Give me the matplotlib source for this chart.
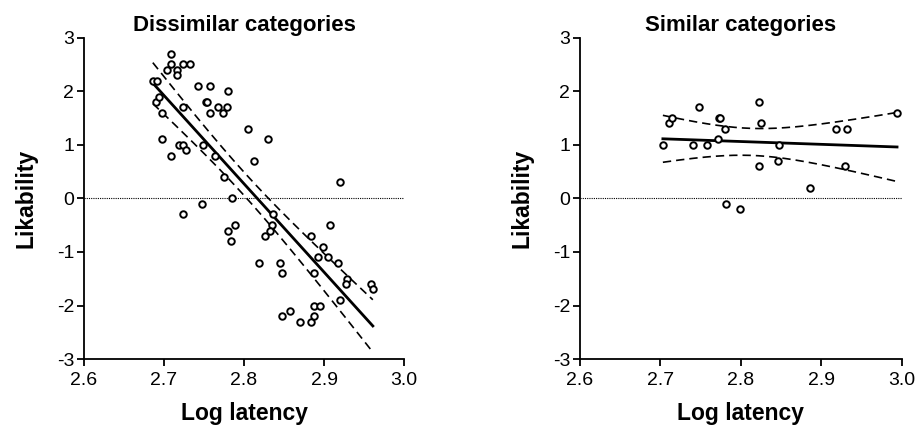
import matplotlib
matplotlib.use('Agg')
import matplotlib.pyplot as plt
import numpy as np

plt.rcParams['font.family'] = ['Liberation Sans', 'DejaVu Sans']

# dissimilar categories: log latency vs likability
dis_x = [2.686, 2.691, 2.709, 2.709, 2.704, 2.716, 2.716, 2.724, 2.733, 2.690,
         2.694, 2.697, 2.698, 2.709, 2.719, 2.724, 2.724, 2.728, 2.724, 2.742,
         2.758, 2.752, 2.754, 2.758, 2.768, 2.774, 2.779, 2.780, 2.749, 2.764,
         2.775, 2.747, 2.785, 2.780, 2.789, 2.784, 2.805, 2.813, 2.830, 2.819,
         2.826, 2.836, 2.835, 2.833, 2.845, 2.848, 2.847, 2.857, 2.870, 2.884,
         2.887, 2.887, 2.895, 2.884, 2.888, 2.899, 2.893, 2.905, 2.907, 2.918,
         2.920, 2.920, 2.929, 2.927, 2.959, 2.961]
dis_y = [2.2, 2.2, 2.7, 2.5, 2.4, 2.4, 2.3, 2.5, 2.5, 1.8,
         1.9, 1.6, 1.1, 0.8, 1.0, 1.0, 1.7, 0.9, -0.3, 2.1,
         2.1, 1.8, 1.8, 1.6, 1.7, 1.6, 1.7, 2.0, 1.0, 0.8,
         0.4, -0.1, 0.0, -0.6, -0.5, -0.8, 1.3, 0.7, 1.1, -1.2,
         -0.7, -0.3, -0.5, -0.6, -1.2, -1.4, -2.2, -2.1, -2.3, -2.3,
         -2.2, -2.0, -2.0, -0.7, -1.4, -0.9, -1.1, -1.1, -0.5, -1.2,
         0.3, -1.9, -1.5, -1.6, -1.6, -1.7]

# similar categories
sim_x = [2.703, 2.711, 2.714, 2.741, 2.748, 2.758, 2.772, 2.773, 2.774, 2.780,
         2.782, 2.799, 2.822, 2.825, 2.823, 2.847, 2.846, 2.886, 2.918, 2.932,
         2.929, 2.994]
sim_y = [1.0, 1.4, 1.5, 1.0, 1.7, 1.0, 1.1, 1.5, 1.5, 1.3,
         -0.1, -0.2, 1.8, 1.4, 0.6, 1.0, 0.7, 0.2, 1.3, 1.3,
         0.6, 1.6]

panels = [("Dissimilar categories", dis_x, dis_y),
          ("Similar categories", sim_x, sim_y)]


def t95(df):
    # two-sided 95% t quantile, Cornish-Fisher expansion
    z = 1.959964
    return z + (z**3 + z) / (4 * df) + (5 * z**5 + 16 * z**3 + 3 * z) / (96 * df**2)


def fit_band(x, y):
    x = np.asarray(x)
    y = np.asarray(y)
    n = len(x)
    slope, icpt = np.polyfit(x, y, 1)
    resid = y - (slope * x + icpt)
    s = np.sqrt(np.sum(resid**2) / (n - 2))
    xx = np.linspace(x.min(), x.max(), 200)
    yy = slope * xx + icpt
    se = s * np.sqrt(1 / n + (xx - x.mean())**2 / np.sum((x - x.mean())**2))
    h = t95(n - 2) * se
    return xx, yy, yy - h, yy + h


fig = plt.figure(figsize=(9.17, 4.28), dpi=100)
rects = [[0.0916, 0.161, 0.349, 0.751], [0.6325, 0.161, 0.351, 0.751]]

for rect, (title, xs, ys) in zip(rects, panels):
    ax = fig.add_axes(rect)
    ax.axhline(0, color='black', lw=0.8, ls=(0, (1, 1)))
    xx, yy, lo, hi = fit_band(xs, ys)
    ax.plot(xx, yy, color='black', lw=2.0)
    ax.plot(xx, lo, color='black', lw=1.2, ls=(0, (5, 3)))
    ax.plot(xx, hi, color='black', lw=1.2, ls=(0, (5, 3)))
    ax.scatter(xs, ys, s=22, facecolors='white', edgecolors='black',
               linewidths=1.4, zorder=3)
    ax.set_xlim(2.6, 3.0)
    ax.set_ylim(-3, 3)
    ax.set_xticks([2.6, 2.7, 2.8, 2.9, 3.0])
    ax.set_xticklabels(['2.6', '2.7', '2.8', '2.9', '3.0'])
    ax.set_yticks([-3, -2, -1, 0, 1, 2, 3])
    ax.set_yticklabels(['-3', '-2', '-1', '0', '1', '2', '3'])
    ax.spines['top'].set_visible(False)
    ax.spines['right'].set_visible(False)
    for sp in ('left', 'bottom'):
        ax.spines[sp].set_linewidth(1.3)
    ax.tick_params(direction='out', length=5, width=1.3, labelsize=14)
    ax.tick_params(axis='x', pad=4)
    ax.tick_params(axis='y', pad=2)
    ax.set_title(title, fontsize=16, fontweight='bold', pad=5)
    ax.set_xlabel('Log latency', fontsize=16.5, fontweight='bold', labelpad=10)
    ax.set_ylabel('Likability', fontsize=16.5, fontweight='bold', labelpad=14)

fig.savefig('out.png', dpi=100)
